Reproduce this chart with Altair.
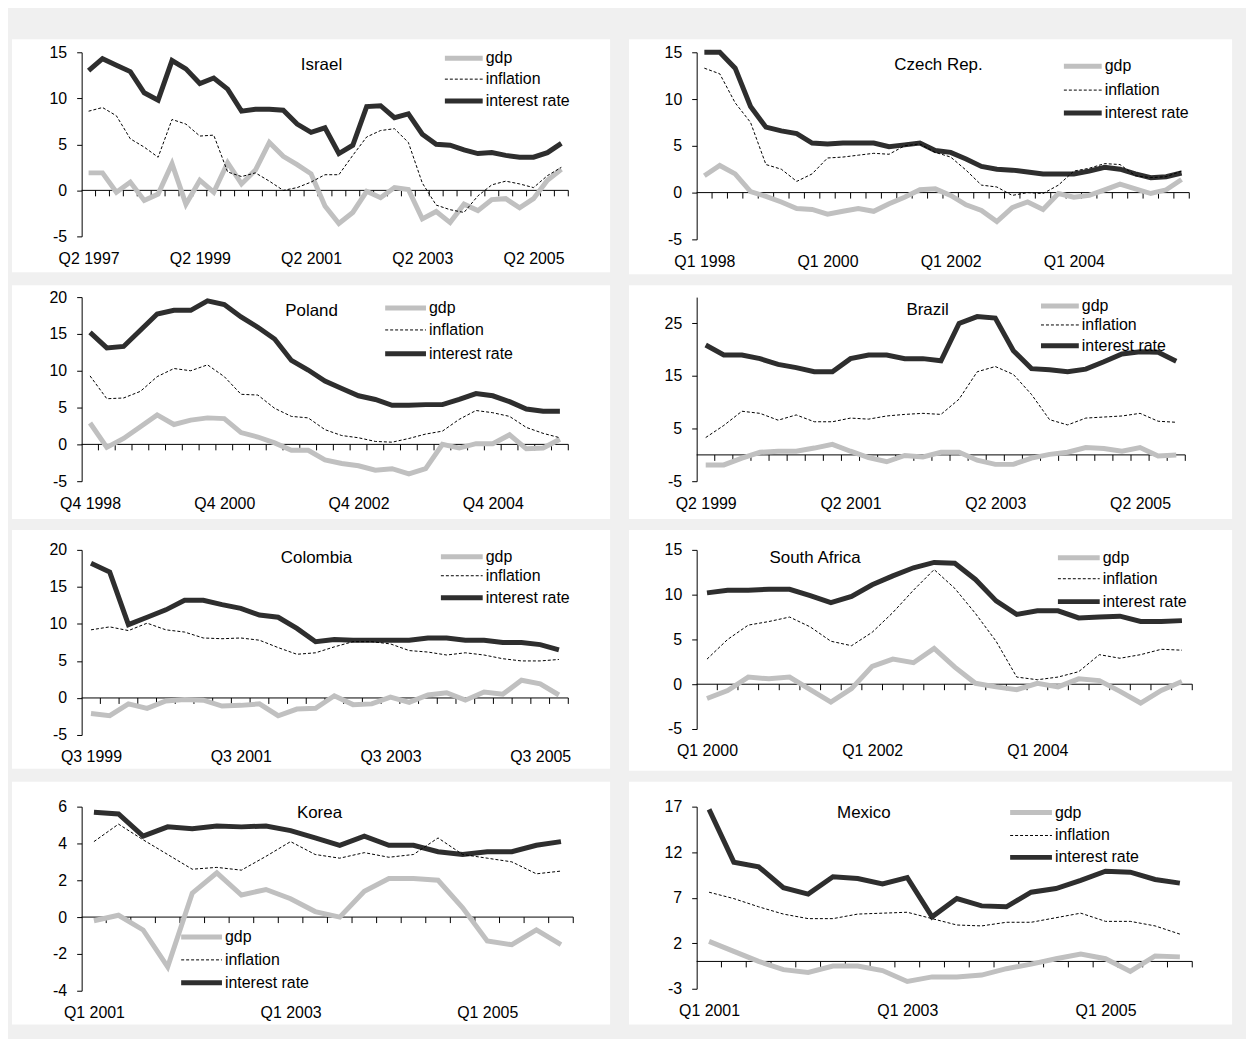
import json
import altair as alt
import pandas as pd

# ---------------- data ----------------
series_names = ["gdp", "inflation", "interest rate"]

israel_labels = ["Q2 1997", "Q2 1999", "Q2 2001", "Q2 2003", "Q2 2005"]
israel_gdp = [1.9, 1.9, -0.2, 0.9, -1.1, -0.4, 2.9, -1.5, 1.1, -0.2, 3.0, 0.7, 2.2, 5.2, 3.7, 2.8, 1.8, -1.7,
              -3.6, -2.4, -0.1, -0.8, 0.3, 0.1, -3.1, -2.3, -3.5, -1.5, -2.2, -1.0, -0.9, -1.9, -0.9, 1.1, 2.3]
israel_infl = [8.6, 9.0, 8.1, 5.6, 4.7, 3.6, 7.7, 7.2, 5.9, 6.0, 2.0, 1.5, 1.9, 1.0, 0.0, 0.3, 0.9, 1.7,
               1.7, 3.8, 5.8, 6.5, 6.7, 5.2, 0.8, -1.6, -2.1, -2.4, -0.6, 0.6, 1.0, 0.7, 0.3, 1.6, 2.5]
israel_rate = [13.0, 14.3, 13.6, 12.9, 10.6, 9.8, 14.1, 13.2, 11.6, 12.2, 11.0, 8.6, 8.8, 8.8, 8.7, 7.2, 6.3, 6.8,
               4.0, 4.9, 9.1, 9.2, 7.9, 8.3, 6.1, 5.0, 4.9, 4.4, 4.0, 4.1, 3.8, 3.6, 3.6, 4.1, 5.1]

czech_labels = ["Q1 1998", "Q1 2000", "Q1 2002", "Q1 2004"]
czech_gdp = [1.8, 2.9, 2.0, 0.1, -0.4, -1.0, -1.7, -1.8, -2.3, -2.0, -1.7, -2.0, -1.2, -0.5, 0.3, 0.4,
             -0.3, -1.3, -1.9, -3.1, -1.6, -1.0, -1.8, -0.1, -0.5, -0.3, 0.3, 0.9, 0.4, -0.1, 0.3, 1.4]
czech_infl = [13.3, 12.7, 9.6, 7.5, 3.0, 2.5, 1.2, 2.0, 3.7, 3.8, 4.0, 4.2, 4.1, 5.0, 5.2, 4.3,
              3.8, 2.4, 0.8, 0.6, -0.3, 0.0, -0.1, 0.8, 2.3, 2.6, 3.1, 3.0, 1.8, 1.6, 1.7, 2.3]
czech_rate = [15.0, 15.0, 13.3, 9.2, 7.0, 6.6, 6.3, 5.3, 5.2, 5.3, 5.3, 5.3, 4.9, 5.1, 5.3, 4.5,
              4.3, 3.6, 2.8, 2.5, 2.4, 2.2, 2.0, 2.0, 2.0, 2.3, 2.7, 2.5, 2.0, 1.6, 1.7, 2.1]

poland_labels = ["Q4 1998", "Q4 2000", "Q4 2002", "Q4 2004"]
poland_gdp = [2.9, -0.4, 0.8, 2.4, 4.0, 2.7, 3.3, 3.6, 3.5, 1.6, 1.0, 0.2, -0.8, -0.8, -2.1, -2.6, -2.9,
              -3.5, -3.3, -4.0, -3.3, 0.0, -0.5, 0.1, 0.1, 1.3, -0.6, -0.5, 0.7]
poland_infl = [9.3, 6.2, 6.3, 7.2, 9.2, 10.3, 10.0, 10.8, 9.2, 6.8, 6.7, 4.9, 3.8, 3.6, 2.0, 1.2, 0.9,
               0.4, 0.3, 0.8, 1.4, 1.8, 3.4, 4.6, 4.3, 3.8, 2.3, 1.5, 0.9]
poland_rate = [15.2, 13.1, 13.3, 15.5, 17.7, 18.2, 18.2, 19.5, 19.0, 17.3, 15.9, 14.3, 11.4, 10.1, 8.6, 7.6,
               6.6, 6.1, 5.3, 5.3, 5.4, 5.4, 6.1, 6.9, 6.6, 5.8, 4.8, 4.5, 4.5]

brazil_labels = ["Q2 1999", "Q2 2001", "Q2 2003", "Q2 2005"]
brazil_gdp = [-1.9, -1.9, -0.6, 0.5, 0.7, 0.7, 1.3, 2.0, 0.7, -0.5, -1.3, -0.1, -0.4, 0.5, 0.5, -1.0,
              -1.8, -1.8, -0.6, 0.1, 0.5, 1.4, 1.2, 0.7, 1.4, -0.2, 0.0]
brazil_infl = [3.3, 5.6, 8.3, 7.9, 6.6, 7.6, 6.3, 6.3, 7.0, 6.8, 7.4, 7.7, 7.9, 7.7, 10.6, 15.8,
               16.8, 15.3, 11.5, 6.7, 5.7, 7.0, 7.2, 7.4, 7.9, 6.4, 6.2]
brazil_rate = [20.9, 19.0, 19.0, 18.3, 17.2, 16.6, 15.8, 15.8, 18.3, 19.0, 19.0, 18.3, 18.3, 17.9, 25.0, 26.3,
               26.0, 19.8, 16.4, 16.2, 15.8, 16.3, 17.7, 19.2, 19.6, 19.5, 17.8]

colombia_labels = ["Q3 1999", "Q3 2001", "Q3 2003", "Q3 2005"]
colombia_gdp = [-2.1, -2.4, -0.8, -1.4, -0.4, -0.2, -0.3, -1.1, -1.0, -0.8, -2.4, -1.5, -1.4, 0.3,
                -0.9, -0.8, 0.1, -0.6, 0.4, 0.7, -0.3, 0.8, 0.5, 2.4, 1.9, 0.4]
colombia_infl = [9.2, 9.6, 9.1, 10.1, 9.2, 8.9, 8.1, 8.0, 8.1, 7.8, 6.8, 5.9, 6.1, 6.9,
                 7.6, 7.6, 7.3, 6.4, 6.2, 5.8, 6.1, 5.8, 5.3, 5.0, 5.0, 5.2]
colombia_rate = [18.2, 17.0, 9.9, 10.9, 11.9, 13.2, 13.2, 12.6, 12.1, 11.2, 10.9, 9.4, 7.6, 7.9,
                 7.8, 7.8, 7.8, 7.8, 8.1, 8.1, 7.8, 7.8, 7.5, 7.5, 7.2, 6.5]

safrica_labels = ["Q1 2000", "Q1 2002", "Q1 2004"]
safrica_gdp = [-1.6, -0.7, 0.8, 0.6, 0.8, -0.6, -2.0, -0.5, 2.0, 2.8, 2.4, 4.0, 1.9, 0.1, -0.3, -0.6,
               0.1, -0.3, 0.6, 0.4, -0.8, -2.1, -0.7, 0.3]
safrica_infl = [2.8, 5.0, 6.6, 7.0, 7.5, 6.4, 4.8, 4.3, 5.8, 8.0, 10.5, 12.8, 10.7, 7.9, 4.8, 0.8,
                0.5, 0.8, 1.4, 3.3, 2.9, 3.3, 3.9, 3.8]
safrica_rate = [10.2, 10.5, 10.5, 10.6, 10.6, 9.9, 9.1, 9.8, 11.1, 12.1, 13.0, 13.6, 13.5, 11.7, 9.3, 7.8,
                8.2, 8.2, 7.4, 7.5, 7.6, 7.0, 7.0, 7.1]

korea_labels = ["Q1 2001", "Q1 2003", "Q1 2005"]
korea_gdp = [-0.2, 0.1, -0.7, -2.7, 1.3, 2.4, 1.2, 1.5, 1.0, 0.3, 0.0, 1.4, 2.1, 2.1, 2.0, 0.5,
             -1.3, -1.5, -0.7, -1.5]
korea_infl = [4.1, 5.05, 4.2, 3.4, 2.6, 2.7, 2.55, 3.3, 4.1, 3.4, 3.2, 3.5, 3.25, 3.4, 4.3, 3.4,
              3.2, 3.0, 2.35, 2.5]
korea_rate = [5.7, 5.6, 4.4, 4.9, 4.8, 4.95, 4.9, 4.95, 4.7, 4.3, 3.9, 4.4, 3.9, 3.9, 3.55, 3.4,
              3.55, 3.55, 3.9, 4.1]

mexico_labels = ["Q1 2001", "Q1 2003", "Q1 2005"]
mexico_gdp = [2.2, 1.1, 0.0, -0.9, -1.2, -0.5, -0.5, -1.0, -2.2, -1.7, -1.7, -1.5, -0.8, -0.3, 0.3, 0.8,
              0.3, -1.1, 0.6, 0.5]
mexico_infl = [7.6, 6.9, 6.0, 5.2, 4.7, 4.7, 5.2, 5.3, 5.4, 4.7, 4.0, 3.9, 4.3, 4.3, 4.8, 5.3,
               4.4, 4.4, 3.9, 3.0]
mexico_rate = [16.7, 10.9, 10.4, 8.1, 7.4, 9.3, 9.1, 8.5, 9.2, 4.9, 6.9, 6.1, 6.0, 7.6, 8.0, 8.9,
               9.9, 9.8, 9.0, 8.6]

# ---------------- styling / layout ----------------
FONT = "Liberation Sans, Arial, sans-serif"
FS = 16
GDP_COLOR = "#c0c0c0"
RATE_COLOR = "#2e2e2e"
INFL_COLOR = "#000000"

# column / row geometry (page pixels)
COL_PANEL = [(12, 613), (632, 1238)]
COL_PLOT_X0 = [82, 700]
ROW_PANEL_Y0 = [37, 285, 530, 782]
ROW_PLOT_Y0 = [50, 297, 550, 807]

panels = [
    dict(name="Israel", labels=israel_labels, gdp=israel_gdp, infl=israel_infl, rate=israel_rate,
         ydom=[-5, 15], yticks=[-5, 0, 5, 10, 15], col=0, row=0,
         panel_y1=271, plot_x1=571, plot_y1=235,
         legend=(447, 485, 488, [56, 77, 99]), title=(323, 63)),
    dict(name="Czech Rep.", labels=czech_labels, gdp=czech_gdp, infl=czech_infl, rate=czech_rate,
         ydom=[-5, 15], yticks=[-5, 0, 5, 10, 15], col=1, row=0,
         panel_y1=273, plot_x1=1195, plot_y1=238,
         legend=(1069, 1107, 1110, [64, 88, 111]), title=(943, 63)),
    dict(name="Poland", labels=poland_labels, gdp=poland_gdp, infl=poland_infl, rate=poland_rate,
         ydom=[-5, 20], yticks=[-5, 0, 5, 10, 15, 20], col=0, row=1,
         panel_y1=520, plot_x1=571, plot_y1=482,
         legend=(387, 428, 431, [308, 330, 354]), title=(313, 311)),
    dict(name="Brazil", labels=brazil_labels, gdp=brazil_gdp, infl=brazil_infl, rate=brazil_rate,
         ydom=[-5, 30], yticks=[-5, 5, 15, 25], col=1, row=1,
         panel_y1=520, plot_x1=1191, plot_y1=482,
         legend=(1046, 1084, 1087, [306, 325, 346]), title=(932, 310)),
    dict(name="Colombia", labels=colombia_labels, gdp=colombia_gdp, infl=colombia_infl, rate=colombia_rate,
         ydom=[-5, 20], yticks=[-5, 0, 5, 10, 15, 20], col=0, row=2,
         panel_y1=770, plot_x1=571, plot_y1=736,
         legend=(443, 485, 488, [557, 576, 598]), title=(318, 558)),
    dict(name="South Africa", labels=safrica_labels, gdp=safrica_gdp, infl=safrica_infl, rate=safrica_rate,
         ydom=[-5, 15], yticks=[-5, 0, 5, 10, 15], col=1, row=2,
         panel_y1=772, plot_x1=1198, plot_y1=730,
         legend=(1063, 1105, 1108, [558, 579, 602]), title=(819, 558)),
    dict(name="Korea", labels=korea_labels, gdp=korea_gdp, infl=korea_infl, rate=korea_rate,
         ydom=[-4, 6], yticks=[-4, -2, 0, 2, 4, 6], col=0, row=3,
         panel_y1=1026, plot_x1=576, plot_y1=992,
         legend=(182, 223, 226, [938, 961, 984]), title=(321, 813)),
    dict(name="Mexico", labels=mexico_labels, gdp=mexico_gdp, infl=mexico_infl, rate=mexico_rate,
         ydom=[-3, 17], yticks=[-3, 2, 7, 12, 17], col=1, row=3,
         panel_y1=1026, plot_x1=1198, plot_y1=990,
         legend=(1015, 1057, 1060, [813, 836, 858]), title=(868, 813)),
]


def make_panel(p):
    px0, py0 = COL_PLOT_X0[p["col"]], ROW_PLOT_Y0[p["row"]]
    px1, py1 = p["plot_x1"], p["plot_y1"]
    qx0, qx1 = COL_PANEL[p["col"]]
    qy0, qy1 = ROW_PANEL_Y0[p["row"]], p["panel_y1"]
    W, H = px1 - px0, py1 - py0
    n = len(p["gdp"])
    df = pd.DataFrame({"k": list(range(n)), "gdp": p["gdp"], "inflation": p["infl"], "rate": p["rate"]})
    ticks = pd.DataFrame({"t": [k + 0.5 for k in range(n)], "z": [0] * n})
    zero = pd.DataFrame({"x0": [-0.5], "x1": [n - 0.5], "z": [0]})
    one = pd.DataFrame({"a": [0]})

    xscale = alt.Scale(domain=[-0.5, n - 0.5], nice=False, zero=False)
    yscale = alt.Scale(domain=p["ydom"], nice=False, zero=False)
    xaxis = alt.Axis(values=[8 * i for i in range(len(p["labels"]))],
                     labelExpr=f"{json.dumps(p['labels'])}[datum.value/8]",
                     domain=False, ticks=False, grid=False, title=None, labelPadding=14,
                     labelFlush=False, labelOverlap=False, labelBound=False, zindex=1)
    yaxis = alt.Axis(values=p["yticks"], labelExpr="'' + datum.value",
                     domainColor="black", tickColor="black", tickSize=5,
                     labelPadding=10, grid=False, title=None, zindex=1, labelOverlap=False,
                     labelFlush=False)

    def X(f):
        return alt.X(f, type="quantitative", scale=xscale, axis=xaxis)

    def Y(f):
        return alt.Y(f, type="quantitative", scale=yscale, axis=yaxis)

    bg = alt.Chart(one).mark_rect(color="white").encode(
        x=alt.value(qx0 - px0), x2=alt.value(qx1 - px0),
        y=alt.value(qy0 - py0), y2=alt.value(qy1 - py0))

    zero_line = alt.Chart(zero).mark_rule(color="black", strokeWidth=1).encode(
        x=X("x0"), x2="x1", y=Y("z"))
    tick_marks = alt.Chart(ticks).mark_rule(color="black", strokeWidth=1, y2Offset=6).encode(
        x=X("t"), y=Y("z"), y2="z")

    gdp = alt.Chart(df).mark_line(color=GDP_COLOR, strokeWidth=5, strokeJoin="miter").encode(
        x=X("k"), y=Y("gdp"))
    rate = alt.Chart(df).mark_line(color=RATE_COLOR, strokeWidth=5, strokeJoin="miter").encode(
        x=X("k"), y=Y("rate"))
    infl = alt.Chart(df).mark_line(color=INFL_COLOR, strokeWidth=1, strokeDash=[3, 2]).encode(
        x=X("k"), y=Y("inflation"))

    tx, ty = p["title"]
    title = alt.Chart(one).mark_text(font=FONT, fontSize=17, color="black", align="center",
                                     baseline="middle").encode(
        x=alt.value(tx - px0), y=alt.value(ty - py0), text=alt.value(p["name"]))

    lx0, lx1, ltx, lys = p["legend"]
    styles = [dict(color=GDP_COLOR, strokeWidth=5),
              dict(color=INFL_COLOR, strokeWidth=1, strokeDash=[3, 2]),
              dict(color=RATE_COLOR, strokeWidth=5)]
    leg = []
    for name, st, ly in zip(series_names, styles, lys):
        leg.append(alt.Chart(one).mark_rule(**st).encode(
            x=alt.value(lx0 - px0), x2=alt.value(lx1 - px0), y=alt.value(ly - py0)))
        leg.append(alt.Chart(one).mark_text(font=FONT, fontSize=FS, color="black", align="left",
                                            baseline="middle").encode(
            x=alt.value(ltx - px0), y=alt.value(ly - py0), text=alt.value(name)))

    return alt.layer(bg, zero_line, tick_marks, gdp, rate, infl, title, *leg).properties(
        width=W, height=H)


charts = [make_panel(p) for p in panels]
rows = [alt.hconcat(charts[i], charts[i + 1], spacing=19) for i in range(0, 8, 2)]
chart = alt.vconcat(*rows, spacing=11).properties(
    background="#f0f0f0",
    padding={"left": 4, "top": 29, "right": 14, "bottom": 12},
).configure_view(strokeWidth=0).configure_axis(
    labelFont=FONT, labelFontSize=FS, labelColor="black"
)

chart.save("out.html", embed_options={"renderer": "svg", "actions": False})
